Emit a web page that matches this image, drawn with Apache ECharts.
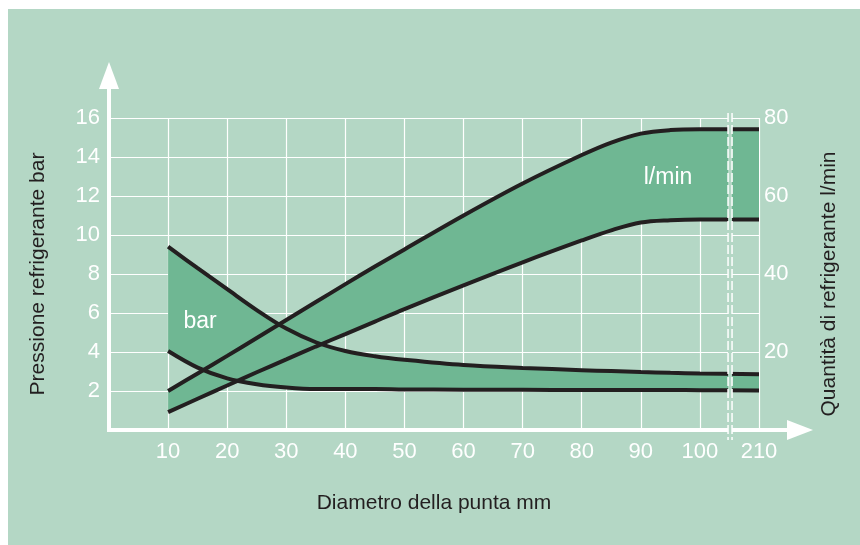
<!DOCTYPE html>
<html>
<head>
<meta charset="utf-8">
<script src="https://cdn.jsdelivr.net/npm/echarts@6/dist/echarts.min.js"></script>
<style>
  html, body { margin: 0; padding: 0; background: #fff; }
  #chart { width: 860px; height: 545px; }
</style>
</head>
<body>
<div id="chart"></div>
<script>
// diametro della punta (mm); 210 sits right after the axis break
const diameters = [10, 15, 20, 25, 30, 35, 40, 45, 50, 60, 70, 80, 85, 90, 95, 100, 210];
const xTickLabels = ['10', '20', '30', '40', '50', '60', '70', '80', '90', '100', '210'];

// pressione refrigerante (bar) - left axis
const barUpper = [9.4, 8.3, 7.22, 6.15, 5.2, 4.5, 4.05, 3.78, 3.6, 3.33, 3.18, 3.07, 3.02, 2.97, 2.93, 2.9, 2.86];
const barLower = [4.05, 3.2, 2.65, 2.35, 2.18, 2.1, 2.1, 2.1, 2.08, 2.07, 2.06, 2.05, 2.05, 2.05, 2.05, 2.04, 2.03];

// quantità di refrigerante (l/min) - right axis
const lminUpper = [10, 14.5, 19, 23.6, 28.2, 32.8, 37.4, 41.9, 46.3, 55, 63.2, 70.5, 73.7, 76, 76.9, 77.1, 77.1];
const lminLower = [4.6, 8, 11.4, 14.8, 18.1, 21.4, 24.6, 27.8, 31, 37.1, 43, 48.6, 51.2, 53.2, 53.8, 54, 54];

const BG = '#b4d7c5';
const FILL = '#6fb793';
const INK = '#231f20';
const FONT = 'Liberation Sans, Arial, sans-serif';

// axis position of a diameter (the 100..210 range is cut out)
function xPos(d) {
  return d > 100 ? 110 : d;
}
// value first, so that stacking works on the value and not on the diameter
function pairs(ys) {
  return diameters.map((d, i) => [ys[i], xPos(d)]);
}
function diff(a, b) {
  return a.map((v, i) => +(v - b[i]).toFixed(3));
}

function lineSeries(name, ys, axis, stack) {
  return {
    name: name,
    type: 'line',
    yAxisIndex: axis,
    stack: stack,
    data: pairs(ys),
    encode: { x: 1, y: 0 },
    smooth: 0.35,
    symbol: 'none',
    z: 4,
    lineStyle: { color: INK, width: 4 },
  };
}
function bandSeries(name, ys, axis, stack) {
  return {
    name: name,
    type: 'line',
    yAxisIndex: axis,
    stack: stack,
    data: pairs(ys),
    encode: { x: 1, y: 0 },
    smooth: 0.35,
    symbol: 'none',
    z: 1,
    lineStyle: { width: 0 },
    areaStyle: { color: FILL, opacity: 1 },
  };
}

let chart = echarts.init(document.getElementById('chart'));
chart.setOption({
  animation: false,
  backgroundColor: BG,
  textStyle: { fontFamily: FONT },
  grid: { left: 109, right: 101, top: 118, bottom: 115 },
  xAxis: {
    type: 'value',
    min: 0,
    max: 110,
    interval: 10,
    name: 'Diametro della punta mm',
    nameLocation: 'middle',
    nameGap: 63,
    nameTextStyle: { color: INK, fontSize: 21, fontFamily: FONT },
    axisLine: { show: false },
    axisTick: { show: false },
    axisLabel: {
      color: '#fff',
      fontSize: 22,
      margin: 11,
      fontFamily: FONT,
      formatter: (v) => (v === 0 ? '' : xTickLabels[v / 10 - 1]),
    },
    splitLine: { show: true, lineStyle: { color: '#fff', width: 1.2 } },
  },
  yAxis: [
    {
      type: 'value',
      min: 0,
      max: 16,
      interval: 2,
      name: 'Pressione refrigerante bar',
      nameLocation: 'middle',
      nameRotate: 90,
      nameGap: 60,
      nameTextStyle: { color: INK, fontSize: 21, fontFamily: FONT },
      axisLine: { show: false },
      axisTick: { show: false },
      axisLabel: {
        color: '#fff',
        fontSize: 22,
        margin: 9,
        fontFamily: FONT,
        formatter: (v) => (v === 0 ? '' : v),
      },
      splitLine: { show: true, lineStyle: { color: '#fff', width: 1.2 } },
    },
    {
      type: 'value',
      position: 'right',
      min: 0,
      max: 80,
      interval: 20,
      name: 'Quantità di refrigerante l/min',
      nameLocation: 'middle',
      nameRotate: 90,
      nameGap: 60,
      nameTextStyle: { color: INK, fontSize: 21, fontFamily: FONT, padding: [0, 20, 0, 0] },
      axisLine: { show: false },
      axisTick: { show: false },
      axisLabel: {
        color: '#fff',
        fontSize: 22,
        margin: 5,
        fontFamily: FONT,
        formatter: (v) => (v === 0 ? '' : v),
      },
      splitLine: { show: false },
    },
  ],
  series: [
    // bar band
    lineSeries('bar min', barLower, 0, 'bar'),
    bandSeries('bar band', diff(barUpper, barLower), 0, 'bar'),
    lineSeries('bar max', barUpper, 0, null),
    // l/min band
    lineSeries('l/min min', lminLower, 1, 'lmin'),
    bandSeries('l/min band', diff(lminUpper, lminLower), 1, 'lmin'),
    lineSeries('l/min max', lminUpper, 1, null),
  ],
});

// axes with arrows, the axis break and the two labels inside the bands
function drawExtras() {
  const o = chart.convertToPixel({ gridIndex: 0 }, [0, 0]);
  const t = chart.convertToPixel({ gridIndex: 0 }, [0, 16]);
  const r = chart.convertToPixel({ gridIndex: 0 }, [110, 0]);
  const br = chart.convertToPixel({ gridIndex: 0 }, [105.1, 0])[0];
  const barTxt = chart.convertToPixel({ xAxisIndex: 0, yAxisIndex: 0 }, [15.4, 5.55]);
  const lminTxt = chart.convertToPixel({ xAxisIndex: 0, yAxisIndex: 1 }, [94.6, 64.6]);

  const yTip = t[1] - 56;
  const xTip = r[0] + 54;
  const lw = 4;

  chart.setOption({
    graphic: [
      // white frame on top and left
      { type: 'rect', shape: { x: 0, y: 0, width: 860, height: 9 }, style: { fill: '#fff' }, z: 100 },
      { type: 'rect', shape: { x: 0, y: 0, width: 8, height: 545 }, style: { fill: '#fff' }, z: 100 },
      // axis break strip
      { type: 'rect', shape: { x: br - 2, y: t[1] - 5, width: 4, height: o[1] - t[1] + 15 }, style: { fill: BG }, z: 50 },
      { type: 'line', shape: { x1: br - 2, y1: t[1] - 5, x2: br - 2, y2: o[1] + 10 }, style: { stroke: '#fff', lineWidth: 1.5, lineDash: [9, 3] }, z: 51 },
      { type: 'line', shape: { x1: br + 2, y1: t[1] - 5, x2: br + 2, y2: o[1] + 10 }, style: { stroke: '#fff', lineWidth: 1.5, lineDash: [9, 3] }, z: 51 },
      // y axis
      { type: 'line', shape: { x1: o[0], y1: o[1] + lw / 2, x2: o[0], y2: yTip + 20 }, style: { stroke: '#fff', lineWidth: lw }, z: 60 },
      { type: 'polygon', shape: { points: [[o[0], yTip], [o[0] - 10, yTip + 27], [o[0] + 10, yTip + 27]] }, style: { fill: '#fff' }, z: 60 },
      // x axis (cut at the break)
      { type: 'line', shape: { x1: o[0] - lw / 2, y1: o[1], x2: br - 2, y2: o[1] }, style: { stroke: '#fff', lineWidth: lw }, z: 60 },
      { type: 'line', shape: { x1: br + 2, y1: o[1], x2: xTip - 20, y2: o[1] }, style: { stroke: '#fff', lineWidth: lw }, z: 60 },
      { type: 'polygon', shape: { points: [[xTip, o[1]], [xTip - 26, o[1] - 10], [xTip - 26, o[1] + 10]] }, style: { fill: '#fff' }, z: 60 },
      // labels inside the bands
      { type: 'text', x: barTxt[0], y: barTxt[1], style: { text: 'bar', fill: '#fff', fontSize: 23, fontFamily: FONT, align: 'center', verticalAlign: 'middle' }, z: 60 },
      { type: 'text', x: lminTxt[0], y: lminTxt[1], style: { text: 'l/min', fill: '#fff', fontSize: 23, fontFamily: FONT, align: 'center', verticalAlign: 'middle' }, z: 60 },
    ],
  });
}
drawExtras();

window.onresize = function () {
  chart.resize();
  drawExtras();
};
</script>
</body>
</html>
